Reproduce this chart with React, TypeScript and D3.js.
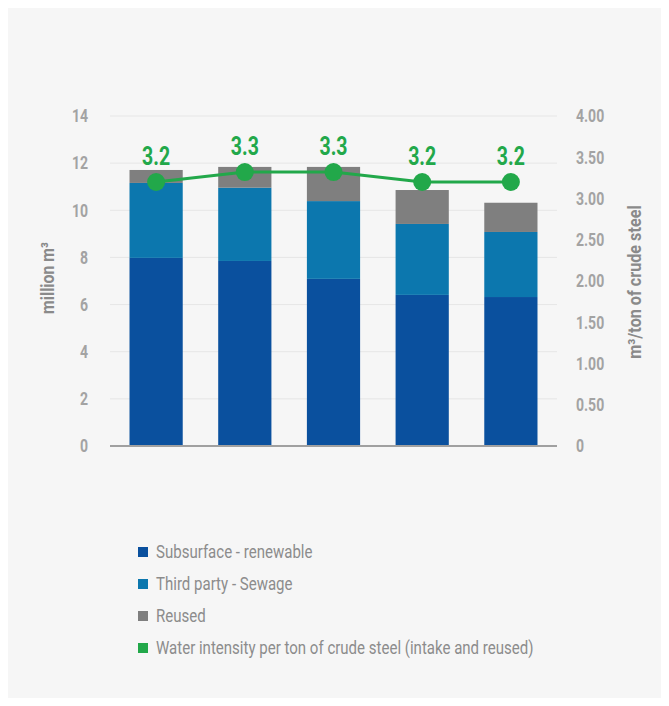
import React from "react";
import * as d3 from "d3";

const years = ["Y1", "Y2", "Y3", "Y4", "Y5"];
const subsurface = [7.98, 7.85, 7.09, 6.41, 6.32];
const thirdParty = [3.18, 3.11, 3.3, 3.01, 2.76];
const reused = [0.55, 0.88, 1.45, 1.44, 1.24];
const intensity = [3.2, 3.32, 3.32, 3.2, 3.2];
const leftTicks = [0, 2, 4, 6, 8, 10, 12, 14];
const rightTicks = [0, 0.5, 1, 1.5, 2, 2.5, 3, 3.5, 4];
const seriesNames = [
  "Subsurface - renewable",
  "Third party - Sewage",
  "Reused",
  "Water intensity per ton of crude steel (intake and reused)",
];
const colors = ["#0a509e", "#0c77ae", "#7f7f7f", "#22a84a"];

const FONT = "Roboto, sans-serif";

function T(props: any) {
  const { x, y, rotate, sx = 0.78, children, ...rest } = props;
  return (
    <g transform={`translate(${x},${y})${rotate ? ` rotate(${rotate})` : ""} scale(${sx},1)`}>
      <text x={0} y={0} {...rest}>{children}</text>
    </g>
  );
}

export default function App() {
  const W = 653, H = 690;
  const x0 = 102, x1 = 549, yTop = 108, yBot = 438;
  const x = d3.scaleBand().domain(years).range([x0, x1]).paddingInner(0.4).paddingOuter(0.22);
  const yL = d3.scaleLinear().domain([0, 14]).range([yBot, yTop]);
  const yR = d3.scaleLinear().domain([0, 4]).range([yBot, yTop]);

  const rows = years.map((yr, i) => ({ yr, vals: [subsurface[i], thirdParty[i], reused[i]] }));
  const stack = d3.stack<any>().keys([0, 1, 2] as any).value((d: any, k: any) => d.vals[k])(rows as any);

  const line = d3.line<number>()
    .x((_, i) => (x(years[i]) as number) + x.bandwidth() / 2)
    .y((d) => yR(d));

  return (
    <svg width={W} height={H} style={{ display: "block", background: "#f6f6f6" }} fontFamily={FONT}>
      {leftTicks.map((t) => (
        <g key={t}>
          {t > 0 && <line x1={x0} x2={x1} y1={yL(t)} y2={yL(t)} stroke="#e6e6e6" strokeWidth={1} />}
          <T x={80} y={yL(t)} dy="0.35em" textAnchor="end" fill="#a3a3a3" fontSize={18} fontWeight="bold">{t}</T>
        </g>
      ))}
      {rightTicks.map((t) => (
        <T key={t} x={568} y={yR(t)} dy="0.35em" textAnchor="start" fill="#a3a3a3" fontSize={18} fontWeight="bold">
          {t === 0 ? "0" : t.toFixed(2)}
        </T>
      ))}
      {stack.map((s: any, k: number) =>
        s.map((d: any, i: number) => (
          <rect key={k + "-" + i} x={x(years[i])} width={x.bandwidth()} y={yL(d[1])} height={yL(d[0]) - yL(d[1])} fill={colors[k]} />
        ))
      )}
      <line x1={x0} x2={x1} y1={yBot} y2={yBot} stroke="#a0a0a0" strokeWidth={2} />
      <path d={line(intensity) || ""} fill="none" stroke={colors[3]} strokeWidth={3} />
      {intensity.map((v, i) => {
        const cx = (x(years[i]) as number) + x.bandwidth() / 2;
        return (
          <g key={i}>
            <circle cx={cx} cy={yR(v)} r={9} fill={colors[3]} />
            <T x={cx} y={yR(v) - 17} textAnchor="middle" fill={colors[3]} fontSize={25} fontWeight="bold">{v.toFixed(1)}</T>
          </g>
        );
      })}
      <T x={40} y={270} rotate={-90} sx={0.88} textAnchor="middle" dy="0.35em" fill="#8a8a8a" fontSize={18} fontWeight="bold">
        million m³
      </T>
      <T x={627} y={274} rotate={-90} sx={0.9} textAnchor="middle" dy="0.35em" fill="#8a8a8a" fontSize={18} fontWeight="bold">
        m³/ton of crude steel
      </T>
      {seriesNames.map((n, i) => (
        <g key={n} transform={`translate(130,${544 + i * 32})`}>
          <rect x={0} y={-5} width={10} height={10} fill={colors[i]} />
          <T x={18} y={0} sx={0.835} dy="0.35em" fill="#8c8c8c" fontSize={18}>{n}</T>
        </g>
      ))}
    </svg>
  );
}
